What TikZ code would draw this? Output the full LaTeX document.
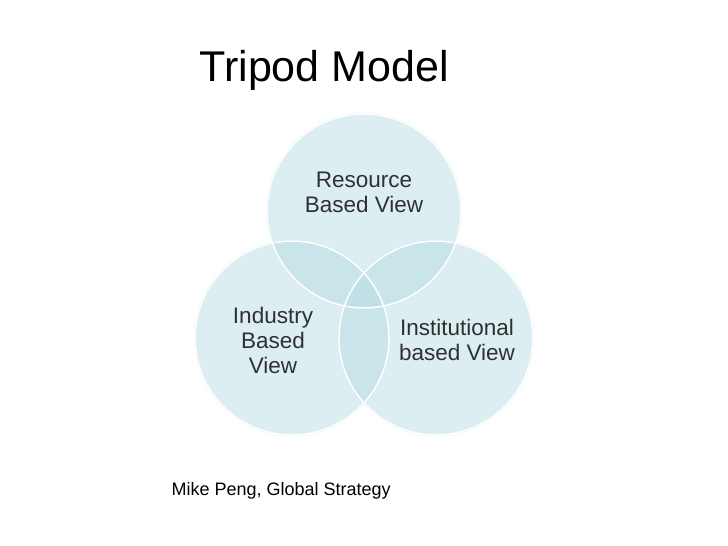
\documentclass[tikz,border=0pt]{standalone}
\usepackage{fontspec}
\setmainfont{Liberation Sans}
\definecolor{cfill}{HTML}{B9DDE3}
\definecolor{txt}{HTML}{303030}
\begin{document}
\begin{tikzpicture}[x=1pt,y=-1pt,
 circ/.style={circle,minimum size=196pt,fill=cfill,fill opacity=0.5,inner sep=0pt},
 ring/.style={white,line width=1.5pt},
 lbl/.style={text=txt,font=\fontsize{22.5}{25}\selectfont,align=center}]
\useasboundingbox (0,0) rectangle (728,546);
\node[circ] (r) at (364,211) {};
\node[circ] (i) at (292,338) {};
\node[circ] (n) at (436,338) {};
\draw[ring] (r.center) circle[radius=97];
\draw[ring] (i.center) circle[radius=97];
\draw[ring] (n.center) circle[radius=97];
\node[lbl] (rt) at (364,192) {Resource\\Based View};
\node[lbl] (it) at (273,340) {Industry\\Based\\View};
\node[lbl] (nt) at (457,340) {Institutional\\based View};
\node[font=\fontsize{43}{46}\selectfont,anchor=west] (title) at (196,70) {Tripod Model};
\node[font=\fontsize{18}{20}\selectfont,anchor=west] (src) at (168,491) {Mike Peng, Global Strategy};
\end{tikzpicture}
\end{document}
